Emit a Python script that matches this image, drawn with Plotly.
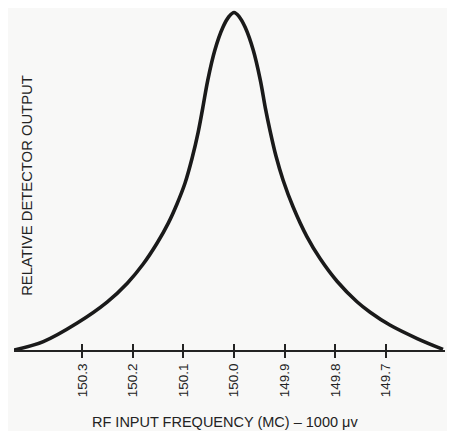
import plotly.graph_objects as go

# Frequency (MC), left (high) to right (low)
freq = [150.435, 150.377, 150.310, 150.251, 150.211, 150.180, 150.152, 150.130,
        150.113, 150.097, 150.083, 150.071, 150.062, 150.052, 150.038, 150.022,
        150.010, 150.000, 149.990, 149.978, 149.962, 149.948, 149.938, 149.929,
        149.917, 149.903, 149.883, 149.856, 149.830, 149.796, 149.757, 149.731,
        149.692, 149.638, 149.587]
# Relative detector output (0 = baseline, 1 = peak)
output = [0.000, 0.025, 0.080, 0.142, 0.198, 0.254, 0.317, 0.376,
          0.432, 0.494, 0.568, 0.645, 0.716, 0.799, 0.888, 0.956,
          0.988, 1.000, 0.988, 0.956, 0.888, 0.799, 0.716, 0.651,
          0.574, 0.503, 0.423, 0.336, 0.271, 0.203, 0.143, 0.112,
          0.074, 0.034, 0.002]

tick_vals = [150.3, 150.2, 150.1, 150.0, 149.9, 149.8, 149.7]
tick_text = ["150.3", "150.2", "150.1", "150.0", "149.9", "149.8", "149.7"]

x_title = "RF INPUT FREQUENCY (MC) – 1000 μv"
y_title = "RELATIVE DETECTOR OUTPUT"

xr = [150.435, 149.583]
yr = [0, 1.0133]

ink = "#232323"

fig = go.Figure()
fig.add_trace(go.Scatter(x=freq, y=output, mode="lines",
                         line=dict(color="#1a1a1a", width=3.6, shape="spline", smoothing=1.0),
                         hoverinfo="skip", showlegend=False))
fig.add_trace(go.Scatter(x=[], y=[], xaxis="x2", showlegend=False, hoverinfo="skip"))

tickfont = dict(family="Liberation Sans, Arial, sans-serif", size=13.5, color=ink)

fig.update_layout(
    width=447, height=423,
    margin=dict(l=6, r=10, t=0, b=81),
    paper_bgcolor="#f8f8f7", plot_bgcolor="#f8f8f7",
    xaxis=dict(range=xr, showgrid=False, zeroline=False,
               showline=True, linecolor=ink, linewidth=2,
               ticks="outside", ticklen=6, tickwidth=2, tickcolor=ink,
               tickvals=tick_vals, ticktext=tick_text, tickangle=-90,
               tickfont=tickfont),
    xaxis2=dict(range=xr, overlaying="x", anchor="y", side="bottom",
                showgrid=False, zeroline=False, showline=False,
                ticks="inside", ticklen=6, tickwidth=2, tickcolor=ink,
                tickvals=tick_vals, showticklabels=False),
    yaxis=dict(range=yr, visible=False, showgrid=False, zeroline=False),
    annotations=[
        dict(text=y_title, xref="paper", yref="paper", x=0.0302, y=0.4800,
             textangle=-90, showarrow=False, xanchor="center", yanchor="middle",
             font=dict(family="Liberation Sans, Arial, sans-serif", size=14.8, color=ink)),
        dict(text=x_title, xref="paper", yref="paper", x=0.4896, y=-0.2105,
             showarrow=False, xanchor="center", yanchor="middle",
             font=dict(family="Liberation Sans, Arial, sans-serif", size=14.5, color=ink)),
    ],
)

fig.write_html("out.html")
